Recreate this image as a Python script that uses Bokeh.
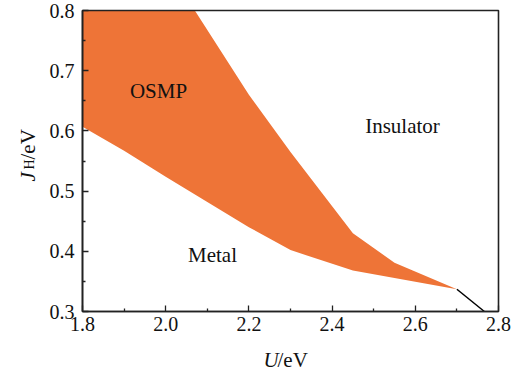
import math
from bokeh.plotting import figure
from bokeh.models import Range1d, FixedTicker, Label, BoxAnnotation
from bokeh.embed import file_html
from bokeh.resources import INLINE

# ---- data ----
x_ticks = [1.8, 2.0, 2.2, 2.4, 2.6, 2.8]
x_tick_labels = ["1.8", "2.0", "2.2", "2.4", "2.6", "2.8"]
x_minor = [1.9, 2.1, 2.3, 2.5, 2.7]
y_ticks = [0.3, 0.4, 0.5, 0.6, 0.7, 0.8]
y_tick_labels = ["0.3", "0.4", "0.5", "0.6", "0.7", "0.8"]
y_minor = [0.35, 0.45, 0.55, 0.65, 0.75]
x_lim = (1.8, 2.8)
y_lim = (0.3, 0.8)

# OSMP / Insulator boundary
upper_U = [2.07, 2.2, 2.3, 2.45, 2.55, 2.7]
upper_J = [0.8, 0.66, 0.565, 0.43, 0.381, 0.337]
# Metal / OSMP boundary
lower_U = [1.8, 1.9, 2.0, 2.1, 2.2, 2.3, 2.45, 2.7]
lower_J = [0.607, 0.567, 0.524, 0.482, 0.44, 0.402, 0.368, 0.337]
# Metal / Insulator boundary
mi_U = [2.7, 2.766]
mi_J = [0.337, 0.3]

FONT = "Liberation Serif"
FILL = "#EE7437"
INK = "#111111"
W, H = 522, 370
# plot box position on the canvas (pixels)
BX0, BX1, BY0, BY1 = 82, 498, 10, 311


def U(px):
    return x_lim[0] + (px - BX0) * (x_lim[1] - x_lim[0]) / (BX1 - BX0)


def J(py):
    return y_lim[1] - (py - BY0) * (y_lim[1] - y_lim[0]) / (BY1 - BY0)


p = figure(width=W, height=H, output_backend="svg", toolbar_location=None,
           x_range=Range1d(U(0), U(W)), y_range=Range1d(J(H), J(0)),
           min_border=0)
p.grid.visible = False
p.outline_line_color = None

poly_x = [x_lim[0]] + upper_U + lower_U[::-1]
poly_y = [y_lim[1]] + upper_J + lower_J[::-1]
p.patch(poly_x, poly_y, fill_color=FILL, line_color=None)
p.line(mi_U, mi_J, line_color="black", line_width=1.5)

p.add_layout(BoxAnnotation(left=x_lim[0], right=x_lim[1], bottom=y_lim[0],
                           top=y_lim[1], fill_alpha=0, fill_color=None,
                           line_color="#222222", line_alpha=1.0,
                           line_width=1.6))

p.xaxis.fixed_location = y_lim[0]
p.yaxis.fixed_location = x_lim[0]
p.xaxis.bounds = x_lim
p.yaxis.bounds = y_lim

for ax, ticks, labels, minor in ((p.xaxis[0], x_ticks, x_tick_labels, x_minor),
                                 (p.yaxis[0], y_ticks, y_tick_labels, y_minor)):
    ax.ticker = FixedTicker(ticks=ticks, minor_ticks=minor)
    ax.major_label_overrides = {t: l for t, l in zip(ticks, labels)}
    ax.major_tick_in = 6
    ax.major_tick_out = 0
    ax.minor_tick_in = 3
    ax.minor_tick_out = 0
    ax.axis_line_width = 1.6
    ax.axis_line_color = "#222222"
    ax.major_tick_line_color = "#222222"
    ax.minor_tick_line_color = "#222222"
    ax.major_tick_line_width = 1.3
    ax.minor_tick_line_width = 1.3
    ax.major_label_text_font = FONT
    ax.major_label_text_font_size = "20px"
    ax.major_label_text_color = INK
    ax.axis_label = None

p.xaxis.major_label_standoff = 5
p.yaxis.major_label_standoff = 8


def lab(px, py, text, size="21px", style="normal", angle=0.0, align="left",
        baseline="alphabetic"):
    p.add_layout(Label(x=U(px), y=J(py), text=text, text_font=FONT,
                       text_font_size=size, text_font_style=style,
                       text_color=INK, angle=angle,
                       text_align=align, text_baseline=baseline))


# region labels
lab(158, 90, "OSMP", align="center", baseline="middle")
lab(402, 125, "Insulator", align="center", baseline="middle")
lab(212, 254, "Metal", align="center", baseline="middle")

# x axis label: U/eV
lab(263, 359, "U", style="italic")
lab(277, 359, "/eV")

# y axis label: J_H/eV (rotated)
lab(27, 181, "J", style="italic", angle=math.pi / 2)
lab(29, 169, "H", size="14px", angle=math.pi / 2)
lab(27, 159, "/eV", angle=math.pi / 2)

open("out.html", "w").write(file_html(p, INLINE))
